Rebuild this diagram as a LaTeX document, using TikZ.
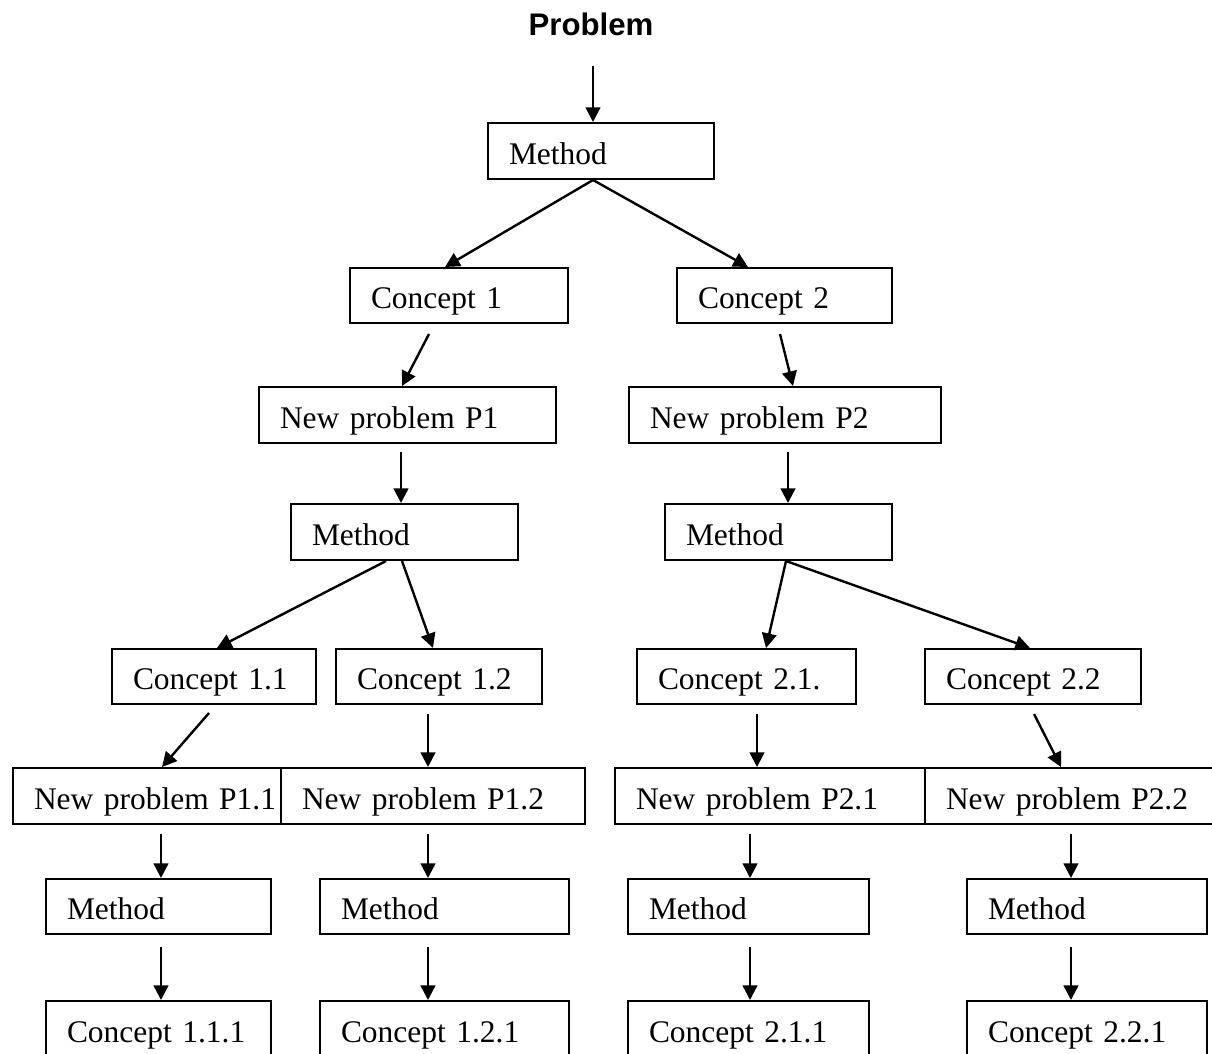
\documentclass[tikz,border=0pt]{standalone}
\usepackage{fontspec}
\setmainfont{Liberation Serif}
\newfontfamily\probfont{Liberation Sans}
\usetikzlibrary{arrows.meta}
\tikzset{
  bw/.code={\pgfmathsetmacro\bwA{#1*0.75}%
    \edef\bwtmp{\noexpand\pgfkeysalso{minimum width=\bwA pt, text width=\bwA pt}}\bwtmp},
  bh/.code={\pgfmathsetmacro\bhA{#1*0.75}%
    \edef\bhtmp{\noexpand\pgfkeysalso{minimum height=\bhA pt}}\bhtmp},
  bx/.style={draw, line width=1.5pt, anchor=north west, align=left,
    inner xsep=0pt, inner ysep=0pt, bh=56,
    text height=19.5pt, text depth=0pt,
    execute at begin node={\hspace*{15.75pt}},
    font=\fontsize{23.6pt}{28pt}\selectfont},
  arr/.style={line width=1.8pt, -{Triangle[length=11pt,width=11pt]}},
}
\begin{document}
\begin{tikzpicture}[x=0.75pt,y=-0.75pt]
\useasboundingbox (0,0) rectangle (1212,1053);
% title
\node[font=\probfont\bfseries\fontsize{23.4pt}{28pt}\selectfont, anchor=base, inner sep=0pt] (p) at (591,35) {Problem};
% row 1
\node[bx, bw=226] (m0) at (487,122) {Method};
% row 2
\node[bx, bw=218, bh=55] (c1) at (349,267) {Concept 1};
\node[bx, bw=215, bh=55] (c2) at (676,267) {Concept 2};
% row 3
\node[bx, bw=297] (p1) at (258,386) {New problem P1};
\node[bx, bw=312] (p2) at (628,386) {New problem P2};
% row 4
\node[bx, bw=227] (m1) at (290,503) {Method};
\node[bx, bw=227] (m2) at (664,503) {Method};
% row 5
\node[bx, bw=204, bh=55] (c11) at (111,648) {Concept 1.1};
\node[bx, bw=206, bh=55] (c12) at (335,648) {Concept 1.2};
\node[bx, bw=219, bh=55] (c21) at (636,648) {Concept 2.1.};
\node[bx, bw=216, bh=55] (c22) at (924,648) {Concept 2.2};
% row 6
\node[bx, bw=268] (p11) at (12,767) {New problem P1.1};
\node[bx, bw=304] (p12) at (280,767) {New problem P1.2};
\node[bx, bw=310] (p21) at (614,767) {New problem P2.1};
\node[bx, bw=320] (p22) at (924,767) {New problem P2.2};
% row 7
\node[bx, bw=225, bh=55] (m3) at (45,878) {Method};
\node[bx, bw=249, bh=55] (m4) at (319,878) {Method};
\node[bx, bw=241, bh=55] (m5) at (627,878) {Method};
\node[bx, bw=240, bh=55] (m6) at (966,878) {Method};
% row 8
\node[bx, bw=225] (k3) at (45,1000) {Concept 1.1.1};
\node[bx, bw=249] (k4) at (319,1000) {Concept 1.2.1};
\node[bx, bw=241] (k5) at (627,1000) {Concept 2.1.1};
\node[bx, bw=240] (k6) at (966,1000) {Concept 2.2.1};
% arrows
\draw[arr] ([shift={(2,31)}]p.base) -- ([shift={(106,0)}]m0.north west);
\draw[arr] ([shift={(106,0)}]m0.south west) -- ([shift={(96,0)}]c1.north west);
\draw[arr] ([shift={(106,0)}]m0.south west) -- ([shift={(72,0)}]c2.north west);
\draw[arr] ([shift={(80,10)}]c1.south west) -- ([shift={(144,0)}]p1.north west);
\draw[arr] ([shift={(104,10)}]c2.south west) -- ([shift={(165,0)}]p2.north west);
\draw[arr] ([shift={(143,8)}]p1.south west) -- ([shift={(111,0)}]m1.north west);
\draw[arr] ([shift={(160,8)}]p2.south west) -- ([shift={(124,0)}]m2.north west);
\draw[arr] ([shift={(96,0)}]m1.south west) -- ([shift={(106,0)}]c11.north west);
\draw[arr] ([shift={(112,0)}]m1.south west) -- ([shift={(98,0)}]c12.north west);
\draw[arr] ([shift={(122,0)}]m2.south west) -- ([shift={(130,0)}]c21.north west);
\draw[arr] ([shift={(122,0)}]m2.south west) -- ([shift={(106,0)}]c22.north west);
\draw[arr] ([shift={(98,8)}]c11.south west) -- ([shift={(150,0)}]p11.north west);
\draw[arr] ([shift={(93,9)}]c12.south west) -- ([shift={(148,0)}]p12.north west);
\draw[arr] ([shift={(121,9)}]c21.south west) -- ([shift={(143,0)}]p21.north west);
\draw[arr] ([shift={(110,9)}]c22.south west) -- ([shift={(137,0)}]p22.north west);
\draw[arr] ([shift={(149,9)}]p11.south west) -- ([shift={(116,0)}]m3.north west);
\draw[arr] ([shift={(148,9)}]p12.south west) -- ([shift={(109,0)}]m4.north west);
\draw[arr] ([shift={(136,9)}]p21.south west) -- ([shift={(123,0)}]m5.north west);
\draw[arr] ([shift={(147,9)}]p22.south west) -- ([shift={(105,0)}]m6.north west);
\draw[arr] ([shift={(116,12)}]m3.south west) -- ([shift={(116,0)}]k3.north west);
\draw[arr] ([shift={(109,12)}]m4.south west) -- ([shift={(109,0)}]k4.north west);
\draw[arr] ([shift={(123,12)}]m5.south west) -- ([shift={(123,0)}]k5.north west);
\draw[arr] ([shift={(105,12)}]m6.south west) -- ([shift={(105,0)}]k6.north west);
\end{tikzpicture}
\end{document}
